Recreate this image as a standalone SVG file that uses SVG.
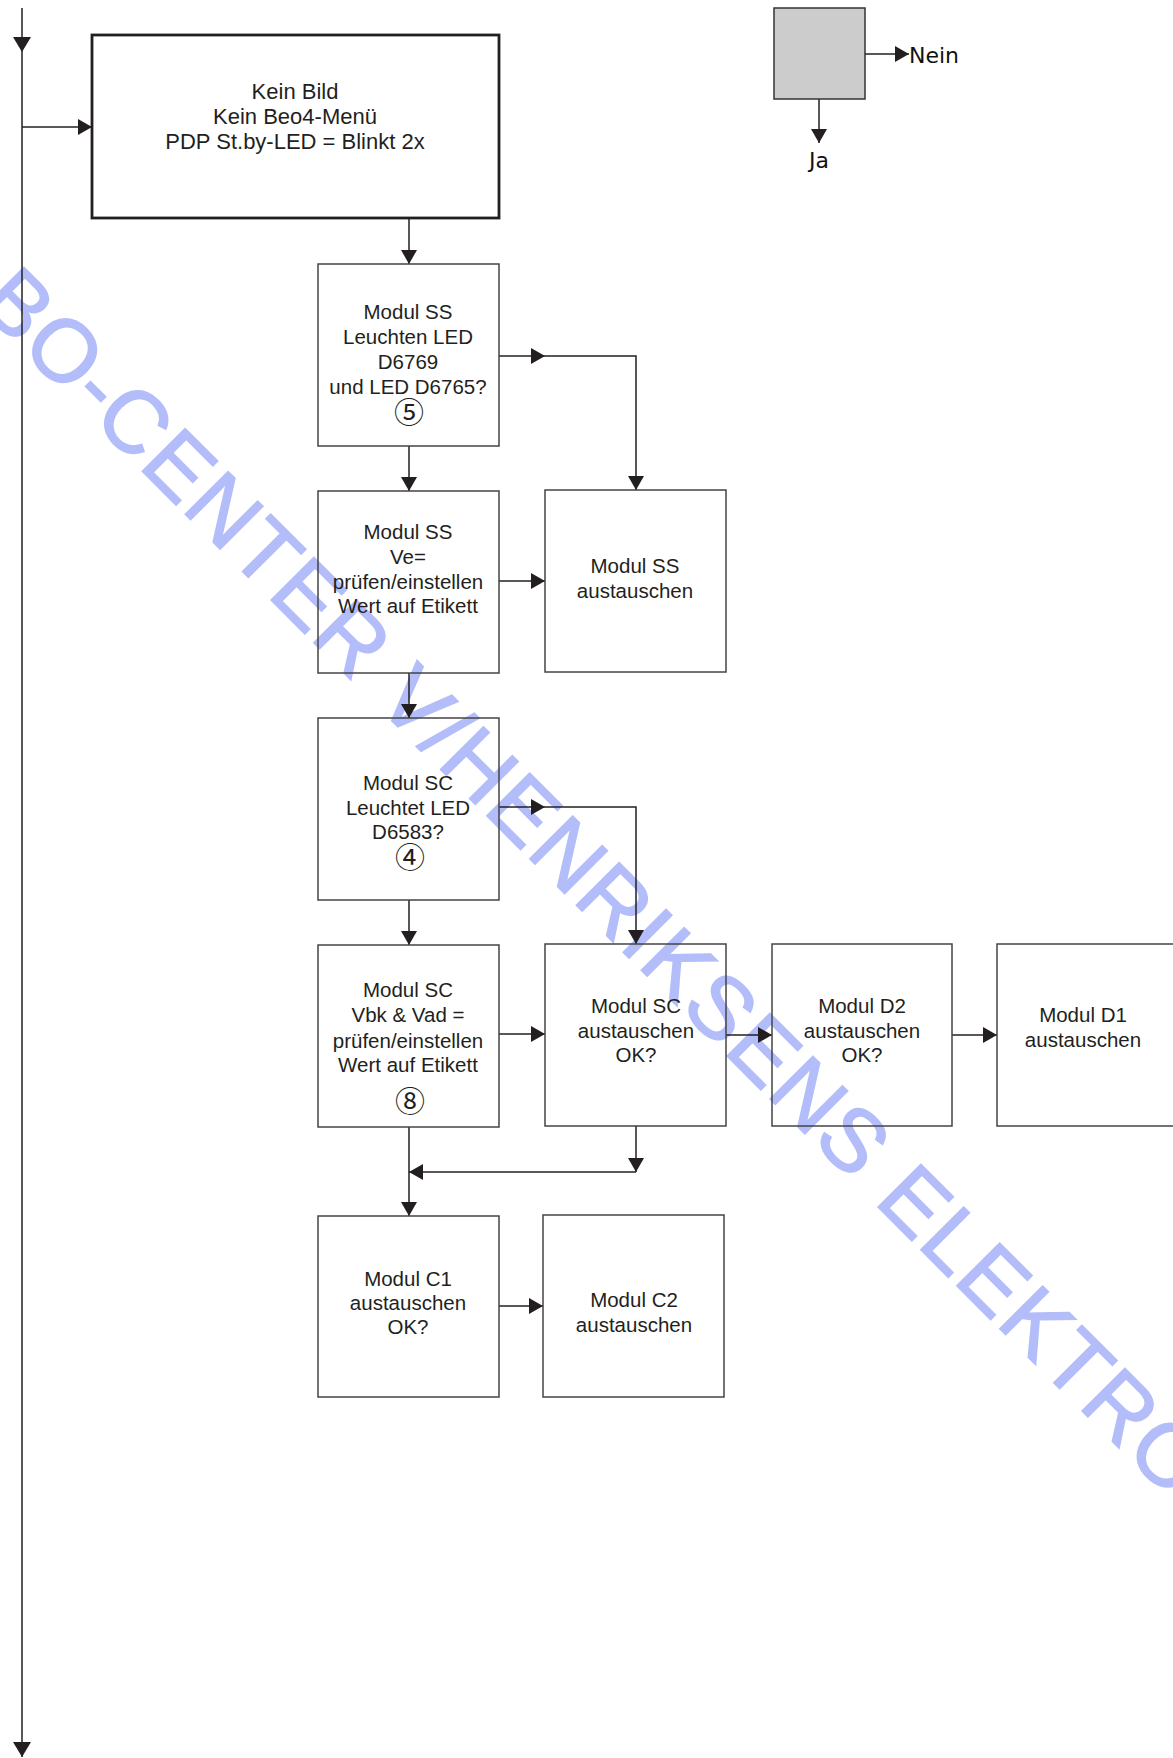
<svg xmlns="http://www.w3.org/2000/svg" width="1173" height="1758" viewBox="0 0 1173 1758">
<style>
.box{fill:none;stroke:#444;stroke-width:1.5}
.main{fill:none;stroke:#231f20;stroke-width:2.8}
.c{fill:none;stroke:#231f20;stroke-width:1.5}
.t{font-family:"Liberation Sans",Arial,sans-serif;font-size:20.5px;fill:#231f20;text-anchor:middle}
.tb{font-family:"Liberation Sans",Arial,sans-serif;font-size:22px;fill:#231f20;text-anchor:middle}
.n{font-family:"Noto Sans CJK JP","DejaVu Sans",sans-serif;font-size:30px;fill:#231f20;text-anchor:middle}
.lg{font-family:"DejaVu Sans",sans-serif;font-size:22px;fill:#111}
.wm{font-family:"Liberation Sans",Arial,sans-serif;font-size:88px;fill:#b3bdfa;stroke:#b3bdfa;stroke-width:1.6;letter-spacing:2px}
</style>
<defs>
<marker id="a" markerUnits="userSpaceOnUse" markerWidth="14" markerHeight="16" refX="14" refY="8" orient="auto">
<path d="M0,0 L14,8 L0,16 z" fill="#231f20"/>
</marker>
<marker id="aL" markerUnits="userSpaceOnUse" markerWidth="15" markerHeight="18" refX="15" refY="9" orient="auto">
<path d="M0,0 L15,9 L0,18 z" fill="#231f20"/>
</marker>
</defs>
<rect width="1173" height="1758" fill="#fff"/>
<g id="watermark" transform="translate(-24,305) rotate(45)">
<text class="wm" x="0" y="0">BO-CENTER V/HENRIKSENS ELEKTRO</text>
</g>
<g id="connectors">
<path class="c" d="M22,8 V52" marker-end="url(#aL)"/>
<path class="c" d="M22,52 V1757" marker-end="url(#aL)"/>
<path class="c" d="M22,127 H92" marker-end="url(#a)"/>
<path class="c" d="M409,218 V264" marker-end="url(#a)"/>
<path class="c" d="M409,446 V491" marker-end="url(#a)"/>
<path class="c" d="M499,356 H545" marker-end="url(#a)"/>
<path class="c" d="M545,356 H636 V490" marker-end="url(#a)"/>
<path class="c" d="M499,581 H545" marker-end="url(#a)"/>
<path class="c" d="M409,673 V718" marker-end="url(#a)"/>
<path class="c" d="M499,807 H545" marker-end="url(#a)"/>
<path class="c" d="M545,807 H636 V944" marker-end="url(#a)"/>
<path class="c" d="M409,900 V945" marker-end="url(#a)"/>
<path class="c" d="M499,1034 H545" marker-end="url(#a)"/>
<path class="c" d="M726,1035 H772" marker-end="url(#a)"/>
<path class="c" d="M952,1035 H997" marker-end="url(#a)"/>
<path class="c" d="M409,1127 V1216" marker-end="url(#a)"/>
<path class="c" d="M636,1126 V1172" marker-end="url(#a)"/>
<path class="c" d="M636,1172 H409" marker-end="url(#a)"/>
<path class="c" d="M499,1306 H543" marker-end="url(#a)"/>
<path class="c" d="M865,54 H909" marker-end="url(#a)"/>
<path class="c" d="M819,99 V143" marker-end="url(#a)"/>
</g>
<g id="legend">
<rect x="774" y="8" width="91" height="91" fill="#cccccc" stroke="#333" stroke-width="1.5"/>
<text class="lg" x="909" y="63">Nein</text>
<text class="lg" x="819" y="168" text-anchor="middle">Ja</text>
</g>
<g id="start">
<rect class="main" x="92" y="35" width="407" height="183"/>
<text class="tb" x="295" y="99">Kein Bild</text>
<text class="tb" x="295" y="124">Kein Beo4-Menü</text>
<text class="tb" x="295" y="149">PDP St.by-LED = Blinkt 2x</text>
</g>
<g id="ss1">
<rect class="box" x="318" y="264" width="181" height="182"/>
<text class="t" x="408" y="319">Modul SS</text>
<text class="t" x="408" y="344">Leuchten LED</text>
<text class="t" x="408" y="369">D6769</text>
<text class="t" x="408" y="394">und LED D6765?</text>
<text class="n" x="409" y="423">⑤</text>
</g>
<g id="ss2">
<rect class="box" x="318" y="491" width="181" height="182"/>
<text class="t" x="408" y="539">Modul SS</text>
<text class="t" x="408" y="564">Ve=</text>
<text class="t" x="408" y="589">prüfen/einstellen</text>
<text class="t" x="408" y="613">Wert auf Etikett</text>
</g>
<g id="ssaus">
<rect class="box" x="545" y="490" width="181" height="182"/>
<text class="t" x="635" y="573">Modul SS</text>
<text class="t" x="635" y="598">austauschen</text>
</g>
<g id="sc1">
<rect class="box" x="318" y="718" width="181" height="182"/>
<text class="t" x="408" y="790">Modul SC</text>
<text class="t" x="408" y="815">Leuchtet LED</text>
<text class="t" x="408" y="839">D6583?</text>
<text class="n" x="410" y="868">④</text>
</g>
<g id="sc2">
<rect class="box" x="318" y="945" width="181" height="182"/>
<text class="t" x="408" y="997">Modul SC</text>
<text class="t" x="408" y="1022">Vbk &amp; Vad =</text>
<text class="t" x="408" y="1048">prüfen/einstellen</text>
<text class="t" x="408" y="1072">Wert auf Etikett</text>
<text class="n" x="410" y="1112">⑧</text>
</g>
<g id="scaus">
<rect class="box" x="545" y="944" width="181" height="182"/>
<text class="t" x="636" y="1013">Modul SC</text>
<text class="t" x="636" y="1038">austauschen</text>
<text class="t" x="636" y="1062">OK?</text>
</g>
<g id="d2">
<rect class="box" x="772" y="944" width="180" height="182"/>
<text class="t" x="862" y="1013">Modul D2</text>
<text class="t" x="862" y="1038">austauschen</text>
<text class="t" x="862" y="1062">OK?</text>
</g>
<g id="d1">
<rect class="box" x="997" y="944" width="181" height="182"/>
<text class="t" x="1083" y="1022">Modul D1</text>
<text class="t" x="1083" y="1047">austauschen</text>
</g>
<g id="c1">
<rect class="box" x="318" y="1216" width="181" height="181"/>
<text class="t" x="408" y="1286">Modul C1</text>
<text class="t" x="408" y="1310">austauschen</text>
<text class="t" x="408" y="1334">OK?</text>
</g>
<g id="c2">
<rect class="box" x="543" y="1215" width="181" height="182"/>
<text class="t" x="634" y="1307">Modul C2</text>
<text class="t" x="634" y="1332">austauschen</text>
</g>
</svg>
